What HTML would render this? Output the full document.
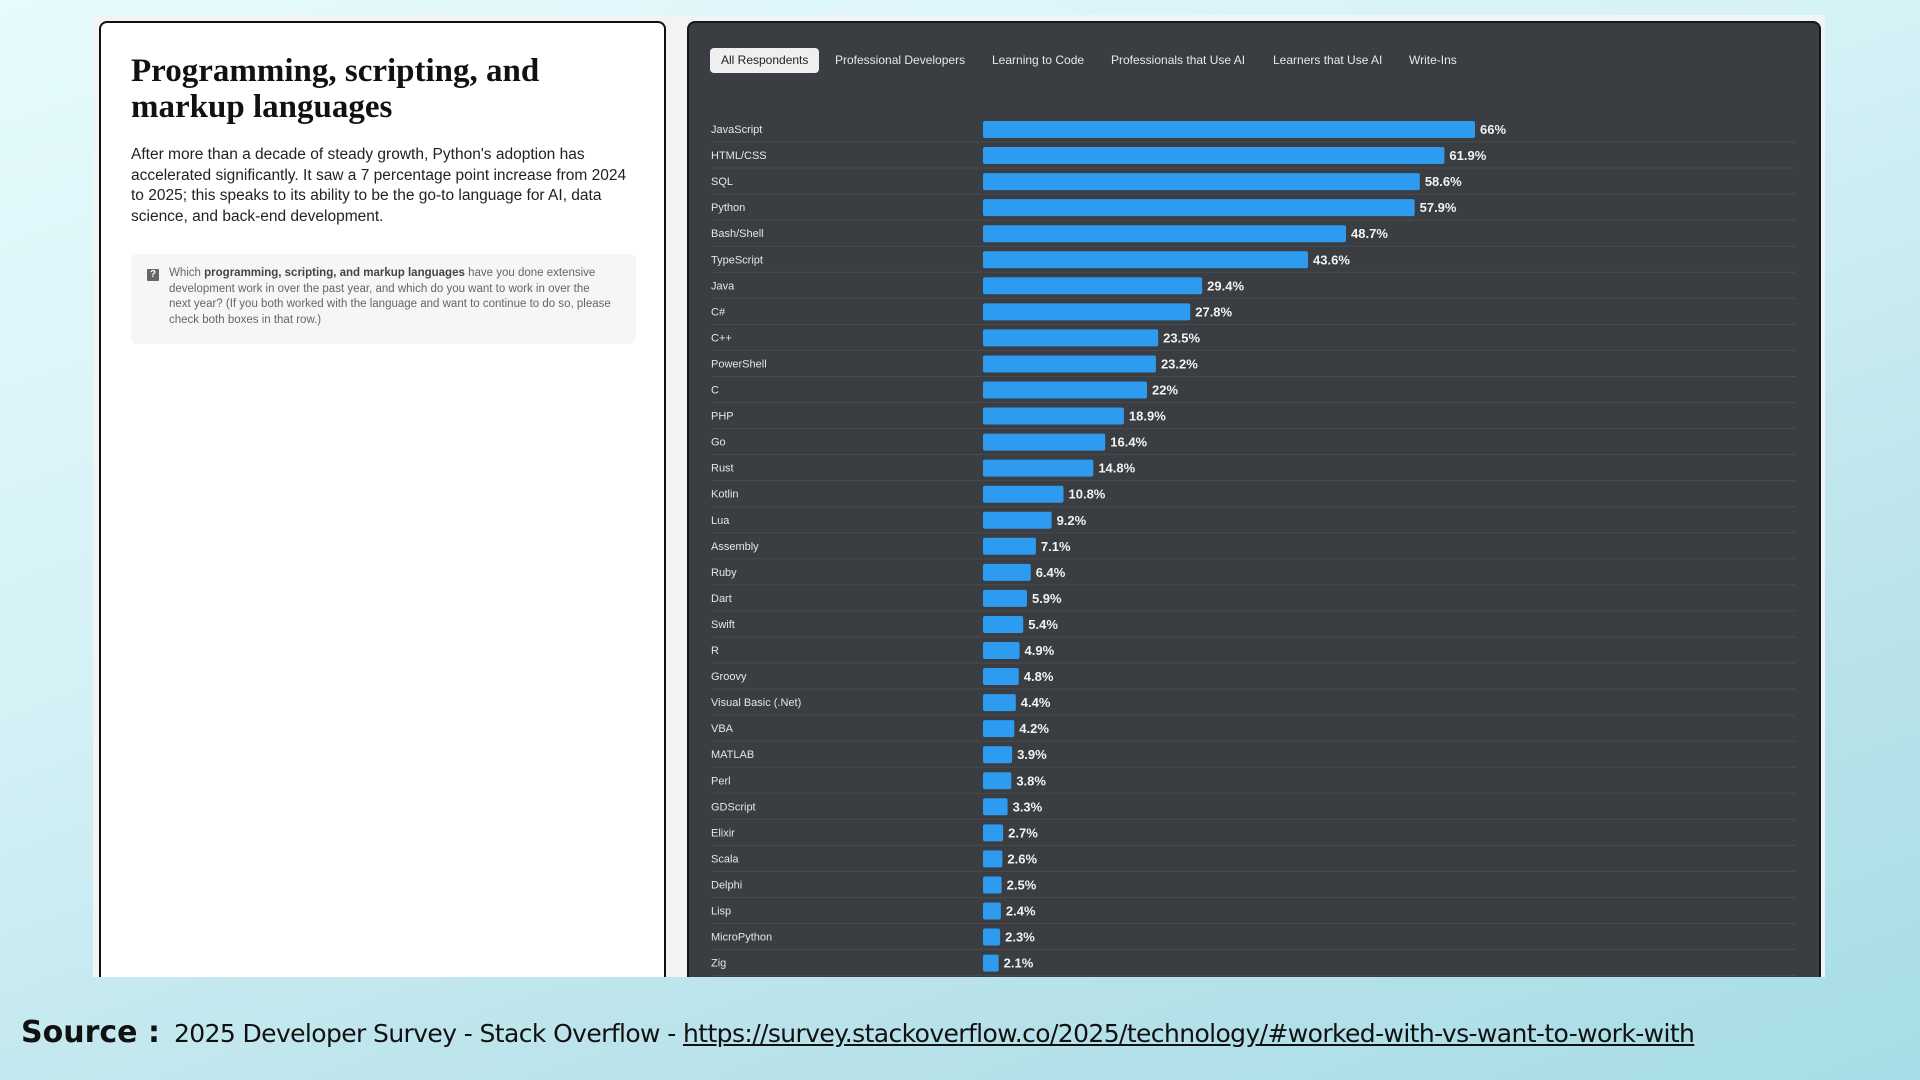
<!DOCTYPE html>
<html><head><meta charset="utf-8">
<style>
*{box-sizing:border-box;margin:0;padding:0}
body{width:1920px;height:1080px;overflow:hidden;font-family:"Liberation Sans",sans-serif;
background:linear-gradient(160deg,#e6fbfd 0%,#d4f1f6 40%,#b9e2ea 75%,#a6dde6 100%);position:relative}
#frame{position:absolute;left:93px;top:15px;width:1732px;height:962px;background:#f1f3f4}
#left{position:absolute;left:99px;top:21px;width:567px;height:956px;background:#fff;border:2.5px solid #111;border-bottom:none;border-radius:8px 8px 0 0}
#right{position:absolute;left:687px;top:21px;width:1134px;height:956px;background:#3a3d41;border:2px solid #161616;border-bottom:none;border-radius:8px 8px 0 0;overflow:hidden}
h1{position:absolute;left:30px;top:30px;font-family:"Liberation Serif","DejaVu Serif",serif;font-weight:bold;font-size:33px;line-height:36px;color:#111;width:520px}
.para{position:absolute;left:30px;top:122px;width:505px;font-size:15.5px;line-height:20.5px;color:#222}
.q{position:absolute;left:30px;top:231px;width:505px;height:90px;background:#f5f6f6;border-radius:6px;padding:12px 24px 0 38px;font-size:11.5px;line-height:15.5px;color:#666}
.q b{color:#444}
.qi{position:absolute;left:16px;top:15px;width:12px;height:12px;background:#666;color:#fff;font-size:10px;line-height:12px;text-align:center;font-weight:bold;border-radius:1px}
.tab{position:absolute;top:25px;height:25px;font-size:12px;line-height:25px;color:#e8e8e8;white-space:nowrap}
.tab.on{background:#efefef;color:#222;border-radius:4px;padding:0 11px}
#source{position:absolute;left:21px;top:1015px;font-size:25px;color:#111;white-space:nowrap;font-family:"DejaVu Sans","Liberation Sans",sans-serif;letter-spacing:-0.6px}
#source b{font-size:30px;margin-right:14px;letter-spacing:0}
#source u{color:#111}
</style></head><body>
<div id="frame"></div>
<div id="left">
<h1>Programming, scripting, and markup languages</h1>
<p class="para">After more than a decade of steady growth, Python's adoption has accelerated significantly. It saw a 7 percentage point increase from 2024 to 2025; this speaks to its ability to be the go-to language for AI, data science, and back-end development.</p>
<div class="q"><span class="qi">?</span>Which <b>programming, scripting, and markup languages</b> have you done extensive development work in over the past year, and which do you want to work in over the next year? (If you both worked with the language and want to continue to do so, please check both boxes in that row.)</div>
</div>
<div id="right">
<div class="tab on" style="left:21px">All Respondents</div>
<div class="tab" style="left:146px">Professional Developers</div>
<div class="tab" style="left:303px">Learning to Code</div>
<div class="tab" style="left:422px">Professionals that Use AI</div>
<div class="tab" style="left:584px">Learners that Use AI</div>
<div class="tab" style="left:720px">Write-Ins</div>
<svg id="chart" width="1134" height="970" style="position:absolute;left:0;top:0"></svg>
</div>
<div id="source"><b>Source :</b>2025 Developer Survey - Stack Overflow - <u>https://survey.stackoverflow.co/2025/technology/#worked-with-vs-want-to-work-with</u></div>
<script>
const categories=["JavaScript","HTML/CSS","SQL","Python","Bash/Shell","TypeScript","Java","C#","C++","PowerShell","C","PHP","Go","Rust","Kotlin","Lua","Assembly","Ruby","Dart","Swift","R","Groovy","Visual Basic (.Net)","VBA","MATLAB","Perl","GDScript","Elixir","Scala","Delphi","Lisp","MicroPython","Zig"];
const values=[66,61.9,58.6,57.9,48.7,43.6,29.4,27.8,23.5,23.2,22,18.9,16.4,14.8,10.8,9.2,7.1,6.4,5.9,5.4,4.9,4.8,4.4,4.2,3.9,3.8,3.3,2.7,2.6,2.5,2.4,2.3,2.1];
const valueLabels=["66%","61.9%","58.6%","57.9%","48.7%","43.6%","29.4%","27.8%","23.5%","23.2%","22%","18.9%","16.4%","14.8%","10.8%","9.2%","7.1%","6.4%","5.9%","5.4%","4.9%","4.8%","4.4%","4.2%","3.9%","3.8%","3.3%","2.7%","2.6%","2.5%","2.4%","2.3%","2.1%"];
const NS="http://www.w3.org/2000/svg";
const svg=document.getElementById('chart');
const x0=294, pxPer=(1473-981)/66;
function xs(v){return x0+v*pxPer;}
function yc(i){return 106+i*26.05;}
function mk(t,a){const e=document.createElementNS(NS,t);for(const k in a)e.setAttribute(k,a[k]);svg.appendChild(e);return e;}
categories.forEach((c,i)=>{
  const y=yc(i);
  const sep=mk('line',{x1:23,x2:1107,y1:y+13,y2:y+13,stroke:'#55595e','stroke-width':1,'stroke-dasharray':'1 1'});
  
  
  const lb=mk('text',{x:22,y:y+4,fill:'#e6e6e6','font-size':11,'font-family':'Liberation Sans, sans-serif'});
  lb.textContent=c;
  
  
  const b=mk('rect',{x:x0,y:y-8,width:xs(values[i])-x0,height:17,rx:2,fill:'#2d9bf0'});
  
  
  const vl=mk('text',{x:xs(values[i])+5,y:y+5,fill:'#f2f2f2','font-size':13,'font-weight':'bold','font-family':'Liberation Sans, sans-serif'});
  vl.textContent=valueLabels[i];
  
  
});
</script>
</body></html>
